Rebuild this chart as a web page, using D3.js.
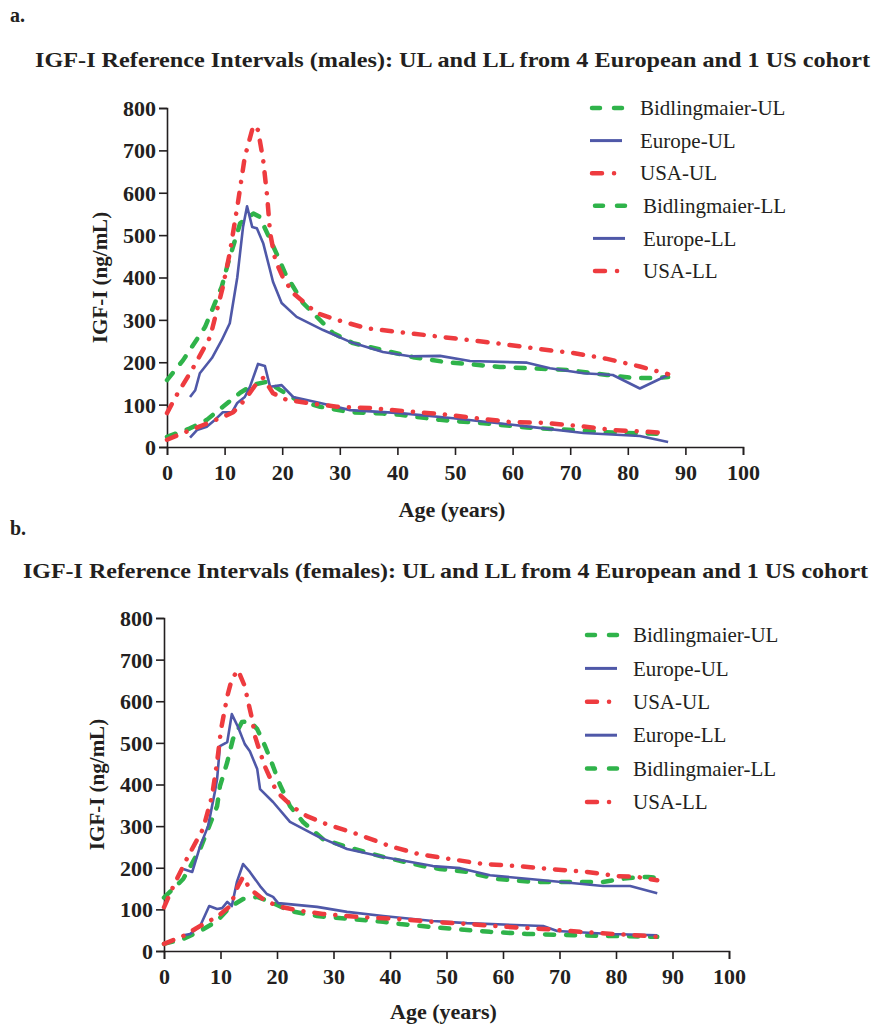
<!DOCTYPE html>
<html>
<head>
<meta charset="utf-8">
<script src="https://cdn.jsdelivr.net/npm/d3@7"></script>
<style>
  body { margin: 0; background: #fff; }
  text { font-family: "Liberation Serif", "Times New Roman", serif; fill: #231f20; }
</style>
</head>
<body>
<svg id="chart" width="874" height="1025"></svg>
<script>
// ages (years) and IGF-I values (ng/mL)
const xTicks = [0, 10, 20, 30, 40, 50, 60, 70, 80, 90, 100];
const yTicks = [0, 100, 200, 300, 400, 500, 600, 700, 800];

// males
const maleBidUL = [[0,158],[2.8,205],[6.6,283],[9.5,378],[10.6,434],[12.7,528],[15,551],[16.1,543],[19,457],[20.5,410],[23.6,340],[28.8,269],[32.3,245],[42.7,212],[48.6,200],[57.8,189],[62.5,186],[69.4,182],[76.4,170],[80.9,163],[85,163],[87,165]];
const maleEuUL = [[4,118],[4.9,134],[5.7,174],[7.8,210],[9.5,252],[10.9,292],[12.2,400],[13.2,519],[13.9,568],[14.8,519],[15.6,516],[16.7,481],[17.9,417],[18.4,390],[19.9,340],[22.5,307],[27.1,276],[31.8,248],[37.5,224],[42.2,214],[47.4,215],[52.6,203],[62.5,199],[66.5,186],[72.3,174],[77.4,170],[82.1,138],[87,170]];
const maleUsaUL = [[0,80],[1.7,123],[4.5,186],[7.5,260],[9.7,378],[10.9,458],[12.3,575],[13.5,684],[15,759],[15.8,748],[16.7,677],[17.4,590],[17.9,505],[18.8,441],[20.1,401],[21.9,363],[26,316],[29.5,300],[34.7,280],[40.5,271],[46.9,261],[52.6,252],[58.3,243],[64.8,231],[70.5,222],[76.4,208],[82.1,190],[85.6,177],[87,172]];
const maleBidLL = [[0,24],[4,44],[6.9,64],[9.7,95],[12.7,128],[15,147],[17.4,154],[19.6,135],[22.5,111],[26.6,95],[31.8,82],[37.5,79],[40.5,76],[47.4,64],[54.9,56],[62.5,46],[70.5,40],[77.4,34],[86.1,31],[87,32]];
const maleEuLL = [[4,22],[5.2,40],[6.9,48],[8.3,64],[9.7,82],[11.3,82],[12.2,104],[13.5,118],[14.4,142],[15.8,196],[17,191],[17.9,142],[19.9,146],[21.9,118],[26.6,104],[31.8,87],[40.5,80],[49.7,68],[63.5,47],[72.3,33],[82.1,26],[87,12]];
const maleUsaLL = [[0,17],[2.8,33],[6.3,52],[9.2,68],[11.5,82],[13.5,111],[15.6,151],[16.7,163],[18.4,127],[20.8,111],[24.3,104],[29.5,95],[35.2,92],[41,85],[47.4,78],[53.8,68],[59.5,59],[65.3,57],[71.2,50],[77.4,40],[83.3,36],[86.5,33]];

// females
const femBidUL = [[0,128],[3.4,173],[6.4,245],[9.4,348],[9.9,396],[11.2,454],[12.2,509],[13.8,550],[15.2,552],[16.5,533],[17.9,492],[19.3,444],[20.5,400],[22.3,348],[24.6,310],[28.1,269],[32.4,250],[38.8,226],[45.8,204],[48.8,197],[53.6,190],[58.9,173],[65.3,166],[73,166],[77.7,166],[81.9,175],[85.7,178],[87,176]];
const femEuUL = [[3.4,197],[5,190],[6.4,252],[7.8,300],[9,382],[9.4,413],[9.9,492],[11.2,502],[12,569],[13.1,538],[14.3,497],[15.2,480],[16.5,437],[17,389],[19.3,358],[22.3,310],[27.1,276],[32.4,245],[38.8,226],[47.6,204],[52.4,199],[57.7,182],[67.1,170],[77.7,156],[82.5,156],[87.3,139]];
const femUsaUL = [[0,105],[1.6,154],[4.2,226],[6.9,293],[8.5,372],[9.4,454],[10.1,533],[11.2,612],[12,653],[13.1,675],[14.3,636],[14.9,598],[15.6,557],[16.1,516],[17,478],[17.9,442],[19.1,406],[20,382],[22.8,346],[25.3,324],[28.7,305],[34.2,281],[40,252],[45.3,232],[50.6,221],[56.5,209],[62.5,204],[68.3,197],[74.9,190],[80.2,180],[83.7,178],[87.3,170]];
const femEuLL = [[3.5,38],[4.6,41],[6.4,60],[8,108],[9.4,101],[10.3,103],[11.2,118],[12,108],[12.9,166],[14,209],[15.2,190],[17,156],[18.2,137],[19.3,130],[20.2,115],[27.1,106],[32.4,94],[38.8,84],[47.6,72],[53.6,67],[67.1,60],[69.6,48],[79,41],[87.3,38]];
const femBidLL = [[0,17],[3.4,29],[6.4,48],[9.4,72],[11.7,106],[14,125],[16.5,130],[18.8,118],[22.3,96],[27.1,84],[32.9,77],[38.8,70],[41.8,65],[49.4,55],[57.7,46],[64.2,41],[72.4,38],[79.5,36],[87.3,34]];
const femUsaLL = [[0,17],[3.4,36],[6.4,60],[9.6,84],[11.7,108],[13.1,156],[14,178],[15.2,149],[17.5,125],[20,108],[23.5,98],[28.1,89],[34.2,82],[41.2,77],[47.6,70],[53.6,65],[60.7,58],[67.1,53],[73.6,46],[79.5,41],[85.5,36],[87.3,34]];

const maleLegend = ['Bidlingmaier-UL', 'Europe-UL', 'USA-UL', 'Bidlingmaier-LL', 'Europe-LL', 'USA-LL'];
const femLegend = ['Bidlingmaier-UL', 'Europe-UL', 'USA-UL', 'Europe-LL', 'Bidlingmaier-LL', 'USA-LL'];

// line styles per cohort
const styles = {
  bid: {color: '#2fb34a', width: 4.5, dash: '9,12', cap: 'round'},
  eu:  {color: '#4f58a8', width: 2.6, dash: null, cap: 'butt'},
  usa: {color: '#ee3b3f', width: 4.5, dash: '10,11,0.1,11', cap: 'round'}
};
function styleOf(name) {
  if (name.indexOf('Bid') === 0) return styles.bid;
  if (name.indexOf('Europe') === 0) return styles.eu;
  return styles.usa;
}

const svg = d3.select('#chart');

function drawPanel(cfg) {
  let g = svg.append('g').attr('class', 'panel');

  let x = d3.scaleLinear().domain([0, 100]).range([cfg.x0, cfg.x1]);
  let y = d3.scaleLinear().domain([0, 800]).range([cfg.y0, cfg.y1]);

  // letter + title
  g.append('text')
    .attr('x', 10).attr('y', cfg.letterY)
    .style('font-size', '20px').style('font-weight', 'bold')
    .text(cfg.letter);
  g.append('text')
    .attr('x', cfg.titleX).attr('y', cfg.titleY)
    .attr('textLength', cfg.titleW).attr('lengthAdjust', 'spacingAndGlyphs')
    .style('font-size', '22px').style('font-weight', 'bold')
    .text(cfg.title);

  // axes
  let xAxis = g.append('g')
    .attr('transform', `translate(0,${cfg.y0})`)
    .call(d3.axisBottom(x).tickValues(xTicks).tickSize(8).tickPadding(9).tickFormat(d3.format('d')));
  let yAxis = g.append('g')
    .attr('transform', `translate(${cfg.x0},0)`)
    .call(d3.axisLeft(y).tickValues(yTicks).tickSize(8).tickPadding(3).tickFormat(d3.format('d')));
  [xAxis, yAxis].forEach(function(a) {
    a.select('.domain').attr('stroke', '#231f20').attr('stroke-width', 1.6);
    a.selectAll('.tick line').attr('stroke', '#231f20').attr('stroke-width', 1.6);
    a.selectAll('.tick text')
      .style('font-family', '"Liberation Serif", serif')
      .style('font-size', '22px').style('font-weight', 'bold').attr('fill', '#231f20');
  });
  yAxis.selectAll('.tick text').attr('dy', '0.34em');

  g.append('text')
    .attr('transform', `translate(${cfg.yLabX},${(cfg.y0 + cfg.y1) / 2}) rotate(-90)`)
    .attr('text-anchor', 'middle')
    .style('font-size', '21px').style('font-weight', 'bold')
    .text('IGF-I (ng/mL)');
  g.append('text')
    .attr('x', (cfg.x0 + cfg.x1) / 2 - 3).attr('y', cfg.xLabY)
    .attr('text-anchor', 'middle')
    .style('font-size', '22px').style('font-weight', 'bold')
    .text('Age (years)');

  // lines
  let line = d3.line()
    .x(d => x(d[0]))
    .y(d => y(d[1]));
  g.append('g').selectAll('path')
    .data(cfg.series)
    .enter()
    .append('path')
    .attr('d', d => line(d.values))
    .attr('fill', 'none')
    .attr('stroke', d => styleOf(d.name).color)
    .attr('stroke-width', d => styleOf(d.name).width)
    .attr('stroke-dasharray', d => styleOf(d.name).dash)
    .attr('stroke-linecap', d => styleOf(d.name).cap)
    .attr('stroke-linejoin', 'round');

  // legend
  let leg = g.append('g').selectAll('g')
    .data(cfg.legend)
    .enter()
    .append('g')
    .attr('transform', (d, i) => `translate(${cfg.legX + (i > 2 ? cfg.legShift : 0)},${cfg.legY + i * cfg.legStep})`);
  leg.each(function(name) {
    let s = styleOf(name);
    let el = d3.select(this);
    if (s === styles.bid) {
      el.append('path').attr('d', 'M2,0H10M24,0H32');
    } else if (s === styles.eu) {
      el.append('path').attr('d', 'M0,0H32');
    } else {
      el.append('path').attr('d', 'M2,0H12M24,0H24.1');
    }
    el.select('path')
      .attr('stroke', s.color)
      .attr('stroke-width', s === styles.eu ? 3 : 4.5)
      .attr('stroke-linecap', s.cap)
      .attr('fill', 'none');
    el.append('text')
      .attr('x', cfg.legTextDx).attr('dy', '0.34em')
      .style('font-size', '21px')
      .text(name);
  });
}

drawPanel({
  letter: 'a.', letterY: 22,
  title: 'IGF-I Reference Intervals (males): UL and LL from 4 European and 1 US cohort',
  titleX: 35, titleY: 67, titleW: 835,
  x0: 167, x1: 743, y0: 447, y1: 108,
  yLabX: 107, xLabY: 517,
  legX: 590, legY: 108, legStep: 32.6, legShift: 3, legTextDx: 50,
  legend: maleLegend,
  series: [
    {name: 'Bidlingmaier-UL', values: maleBidUL},
    {name: 'Europe-UL', values: maleEuUL},
    {name: 'USA-UL', values: maleUsaUL},
    {name: 'Bidlingmaier-LL', values: maleBidLL},
    {name: 'Europe-LL', values: maleEuLL},
    {name: 'USA-LL', values: maleUsaLL}
  ]
});

drawPanel({
  letter: 'b.', letterY: 535,
  title: 'IGF-I Reference Intervals (females): UL and LL from 4 European and 1 US cohort',
  titleX: 23, titleY: 578, titleW: 845,
  x0: 164, x1: 729, y0: 951, y1: 618,
  yLabX: 104, xLabY: 1019,
  legX: 585, legY: 635, legStep: 33.4, legShift: 0, legTextDx: 48,
  legend: femLegend,
  series: [
    {name: 'Bidlingmaier-UL', values: femBidUL},
    {name: 'Europe-UL', values: femEuUL},
    {name: 'USA-UL', values: femUsaUL},
    {name: 'Bidlingmaier-LL', values: femBidLL},
    {name: 'Europe-LL', values: femEuLL},
    {name: 'USA-LL', values: femUsaLL}
  ]
});
</script>
</body>
</html>
